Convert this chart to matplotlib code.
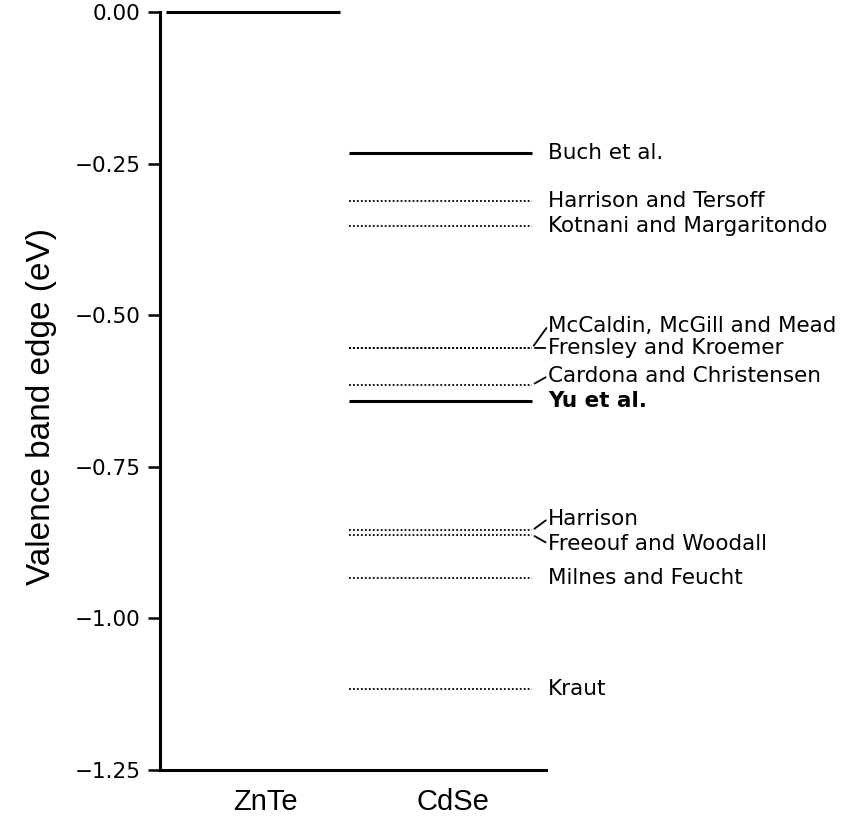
import matplotlib
matplotlib.use("Agg")
import matplotlib.pyplot as plt

# valence band edge of ZnTe (reference level)
znte_edge = 0.0

# CdSe valence band edge predictions/measurements (eV)
cdse_labels = [
    "Buch et al.",
    "Harrison and Tersoff",
    "Kotnani and Margaritondo",
    "McCaldin, McGill and Mead",
    "Frensley and Kroemer",
    "Cardona and Christensen",
    "Yu et al.",
    "Harrison",
    "Freeouf and Woodall",
    "Milnes and Feucht",
    "Kraut",
]
cdse_values = [-0.233, -0.312, -0.353, -0.554, -0.554, -0.615,
               -0.641, -0.855, -0.862, -0.933, -1.116]
# True = experiment (solid line), False = theory (dotted line)
cdse_measured = [True, False, False, False, False, False,
                 True, False, False, False, False]

y_ticks = [0.0, -0.25, -0.50, -0.75, -1.00, -1.25]
x_categories = ["ZnTe", "CdSe"]

# layout / style (not data)
ZNTE_SPAN = (0.016, 0.466)
CDSE_SPAN = (0.49, 0.964)
CAT_POS = [0.272, 0.759]
# label offsets in points (dx, dy) and whether a small leader line is drawn
label_style = {
    "McCaldin, McGill and Mead": (11.5, 16, True),
    "Frensley and Kroemer": (11.5, 0, True),
    "Cardona and Christensen": (11.5, 6.5, True),
    "Harrison": (11.5, 8.5, True),
    "Freeouf and Woodall": (11.5, -6.5, True),
}

fig = plt.figure(figsize=(8.6, 8.24), dpi=100)
ax = fig.add_axes([160 / 860, 54 / 824, 386 / 860, 758 / 824])

ax.hlines(znte_edge, *ZNTE_SPAN, color="black", lw=2.2, clip_on=False)

for name, val, solid in zip(cdse_labels, cdse_values, cdse_measured):
    if solid:
        ax.hlines(val, *CDSE_SPAN, color="black", lw=2.2)
    else:
        ax.hlines(val, *CDSE_SPAN, color="black", lw=1.3, linestyles=(0, (1, 1.2)))

    dx, dy, leader = label_style.get(name, (11.5, 0, False))
    arrow = None
    if leader:
        arrow = dict(arrowstyle="-", lw=1.3, color="black", patchA=None,
                     relpos=(0, 0.5), shrinkA=2, shrinkB=2)
    ax.annotate(name, xy=(CDSE_SPAN[1], val), xytext=(dx, dy),
                textcoords="offset points", ha="left", va="center",
                fontsize=15.5, family="DejaVu Sans",
                fontweight=("bold" if name == "Yu et al." else "normal"),
                arrowprops=arrow, annotation_clip=False)

ax.set_xlim(0, 1)
ax.set_ylim(-1.25, 0.0)

ax.set_yticks(y_ticks)
ax.set_yticklabels([f"{t:.2f}".replace("-", "\u2212") for t in y_ticks])
ax.tick_params(axis="y", direction="out", length=9, width=1.8, pad=5,
               labelsize=15.5)

ax.set_xticks(CAT_POS)
ax.set_xticklabels(x_categories, fontsize=21, family="Liberation Sans")
ax.tick_params(axis="x", length=0, pad=13)

for side in ["top", "right"]:
    ax.spines[side].set_visible(False)
for side in ["left", "bottom"]:
    ax.spines[side].set_linewidth(2.2)

ax.set_ylabel("Valence band edge (eV)", fontsize=24, family="Liberation Sans",
              va="center")
ax.yaxis.set_label_coords(-0.308, 0.479)

fig.savefig("out.png", dpi=100, facecolor="white")
